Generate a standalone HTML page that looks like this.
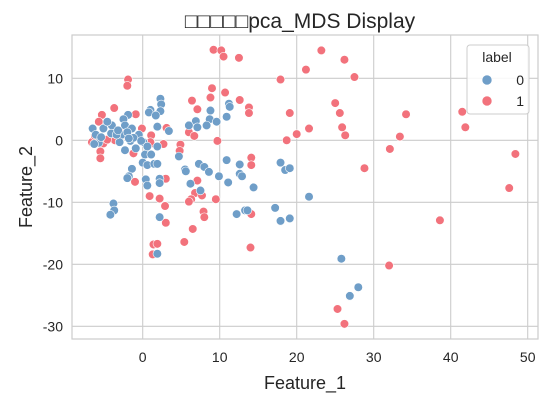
<!DOCTYPE html>
<html><head><meta charset="utf-8"><style>
body{margin:0;background:#fff}
svg{display:block;font-family:"Liberation Sans","Noto Sans CJK SC",sans-serif}
</style></head><body>
<svg id="c" width="546" height="401"></svg>
<script>
const xTicks=[0,10,20,30,40,50];
const yTicks=[10,0,-10,-20,-30];
const x0=[2.3,2.4,1.0,0.8,2.3,1.7,-1.9,-2.5,8.8,11.2,11.3,10.9,6.9,6.0,7.1,8.7,8.3,9.6,1.9,3.4,-6.5,-5.1,-4.0,-2.3,-1.4,-6.1,-4.1,-2.7,-2.0,-0.5,0.1,-5.7,-3.0,-1.6,-0.9,1.9,-2.3,0.3,1.1,0.0,0.6,1.5,1.9,4.7,7.3,8.0,8.6,10.9,12.6,9.9,12.6,12.9,14.4,11.1,5.5,5.6,6.2,7.5,-1.4,-1.8,-2.0,0.4,0.6,2.2,2.2,-3.8,-3.7,-4.2,2.2,12.2,13.3,13.6,1.9,17.9,18.5,19.1,21.6,17.2,17.9,19.1,25.8,28.0,26.9,-3.4,-1.2,-4.6,-6.3,-0.2,-3.2,-1.8,-5.4,0.6];
const y0=[6.7,5.8,4.9,4.5,4.7,4.0,4.1,3.4,4.8,5.9,5.4,3.8,3.1,2.4,2.1,3.4,2.4,3.0,2.2,1.5,1.9,1.9,2.4,2.4,1.9,0.9,1.1,0.9,1.3,0.9,-0.3,-0.4,-0.3,-0.1,-1.3,-1.0,-1.6,-2.3,-2.3,-3.6,-4.0,-3.8,-3.8,-2.6,-3.8,-4.3,-5.1,-3.2,-3.9,-5.8,-5.4,-5.8,-7.6,-6.8,-4.7,-5.0,-7.0,-8.1,-4.6,-5.8,-6.1,-6.3,-7.3,-6.2,-6.9,-10.2,-11.3,-12.0,-12.4,-11.9,-11.3,-11.3,-18.3,-3.6,-4.8,-4.5,-9.1,-10.9,-13.0,-12.6,-19.1,-23.7,-25.1,0.9,0.4,3.0,-0.6,-0.1,1.6,0.3,0.5,-1.0];
const x1=[9.2,10.2,10.5,12.5,-1.9,-2.0,9.0,10.7,8.8,6.4,12.6,7.1,13.8,13.8,-3.7,-5.3,-0.9,-5.7,-0.1,3.1,6.0,6.7,1.1,1.1,2.7,9.7,4.9,4.8,-5.5,-5.5,-6.6,-5.1,-3.6,-1.2,14.1,14.1,7.1,3.0,-1.0,0.9,2.2,6.8,7.7,6.3,6.0,9.5,2.9,7.9,8.0,14.1,3.0,6.5,5.4,14.0,1.4,1.9,1.3,-6.2,-4.6,-2.9,-2.0,1.0,0.1,-3.6,23.2,26.2,21.2,17.9,27.5,25.0,25.6,19.1,34.2,41.5,41.9,25.9,21.6,20.0,26.3,33.4,18.7,32.1,48.4,28.8,47.6,38.6,32.0,25.3,26.2];
const y1=[14.6,14.5,13.5,13.3,9.8,8.8,8.4,7.7,6.9,6.4,6.5,5.0,5.3,4.4,5.2,4.1,4.2,3.0,1.9,2.0,1.3,0.7,0.8,-0.5,-0.6,-0.1,-0.7,-1.7,-1.8,-2.9,-0.3,-0.5,0.0,-2.1,-2.8,-4.0,-6.5,-6.2,-6.7,-9.0,-9.4,-8.5,-8.9,-9.5,-9.9,-9.5,-10.6,-11.5,-12.4,-11.9,-13.3,-14.3,-16.4,-17.3,-16.8,-16.7,-18.4,0.7,0.1,1.2,0.6,-0.3,-0.3,1.7,14.5,13.0,11.4,9.8,10.2,6.0,4.4,4.4,4.2,4.6,2.1,2.1,1.9,1.0,0.8,0.6,0.0,-1.4,-2.2,-4.5,-7.7,-12.9,-20.2,-27.2,-29.6];
const NS='http://www.w3.org/2000/svg';
const svg=document.getElementById('c');
const L=72,R=538,T=35,B=339;
const sx=v=>142.7+v*7.7, sy=v=>140.3-v*6.2;
function el(t,a,txt){const e=document.createElementNS(NS,t);for(const k in a)e.setAttribute(k,a[k]);if(txt!==undefined)e.textContent=txt;svg.appendChild(e);return e;}
let bg=el('rect',{x:L,y:T,width:R-L,height:B-T,fill:'#fff',stroke:'#cccccc','stroke-width':1.2});


xTicks.forEach(v=>{
 let g=el('line',{x1:sx(v),x2:sx(v),y1:T,y2:B,stroke:'#cccccc','stroke-width':1.1});
 
 
 let t=el('text',{x:sx(v),y:362,'text-anchor':'middle','font-size':14,fill:'#262626'},String(v));
 
 
});
yTicks.forEach(v=>{
 let g=el('line',{x1:L,x2:R,y1:sy(v),y2:sy(v),stroke:'#cccccc','stroke-width':1.1});
 
 
 let t=el('text',{x:63,y:sy(v)+5,'text-anchor':'end','font-size':14,fill:'#262626'},String(v));
 
 
});
x1.forEach((v,i)=>{
 let c=el('circle',{cx:sx(v),cy:sy(y1[i]),r:4.3,fill:'#f2727c',stroke:'#fff','stroke-width':0.6});
 
 
});
x0.forEach((v,i)=>{
 let c=el('circle',{cx:sx(v),cy:sy(y0[i]),r:4.3,fill:'#6f9ec8',stroke:'#fff','stroke-width':0.6});
 
 
});
let tt=el('text',{x:300,y:28,'text-anchor':'middle','font-size':21,fill:'#262626'},'□□□□□pca_MDS Display');


let xl=el('text',{x:305,y:389,'text-anchor':'middle','font-size':18,fill:'#262626'},'Feature_1');


let yl=el('text',{x:0,y:0,'text-anchor':'middle','font-size':18,fill:'#262626',transform:'translate(32,187) rotate(-90)'},'Feature_2');


let lg=el('rect',{x:467,y:45,width:62,height:69,rx:3,fill:'#fff','fill-opacity':0.85,stroke:'#cccccc','stroke-width':1});


let lt=el('text',{x:497,y:62,'text-anchor':'middle','font-size':14,fill:'#262626'},'label');


[['0','#6f9ec8',80],['1','#f2727c',101]].forEach(([lab,col,y])=>{
 let m=el('circle',{cx:487,cy:y,r:5,fill:col,stroke:'#fff','stroke-width':0.6});
 
 
 let t=el('text',{x:524,y:y+5,'text-anchor':'end','font-size':14,fill:'#262626'},lab);
 
 
});
</script>
</body></html>
